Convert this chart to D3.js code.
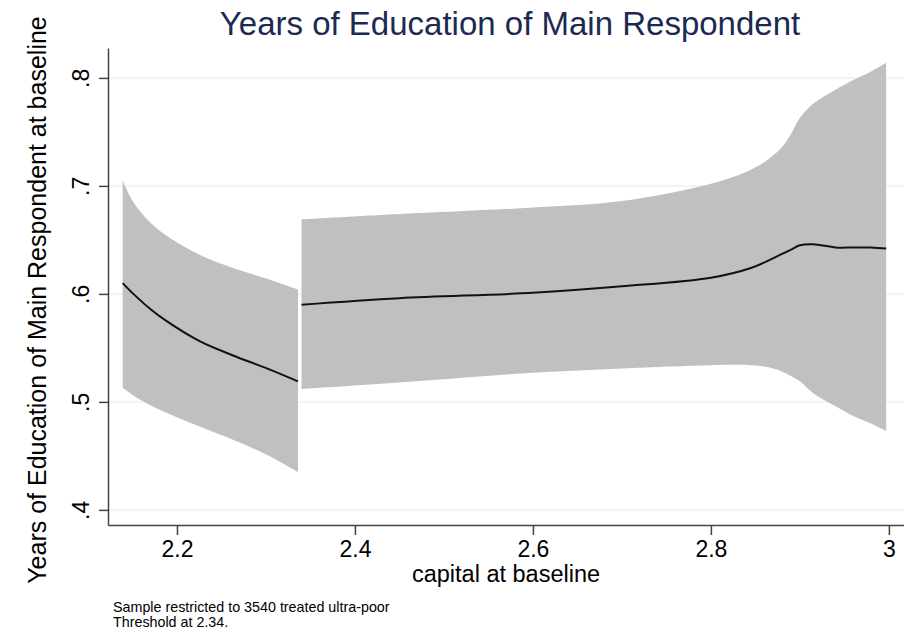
<!DOCTYPE html>
<html>
<head>
<meta charset="utf-8">
<script src="https://cdn.jsdelivr.net/npm/d3@7"></script>
<style>
  html, body { margin: 0; padding: 0; background: #fff; }
  svg { display: block; font-family: "Liberation Sans", Arial, Helvetica, sans-serif; }
</style>
</head>
<body>
<div id="chart"></div>
<script>
// left of threshold (2.34)
const leftX   = [2.139, 2.151, 2.170, 2.188, 2.226, 2.263, 2.301, 2.336];
const leftFit = [0.610, 0.600, 0.586, 0.575, 0.556, 0.543, 0.531, 0.519];
const leftHi  = [0.705, 0.685, 0.666, 0.654, 0.636, 0.624, 0.614, 0.604];
const leftLo  = [0.513, 0.506, 0.497, 0.490, 0.477, 0.465, 0.451, 0.435];

// right of threshold
const rightX   = [2.340, 2.450, 2.600, 2.700, 2.800, 2.845, 2.865, 2.880, 2.890, 2.900, 2.915, 2.940, 2.960, 2.980, 2.997];
const rightFit = [0.590, 0.596, 0.601, 0.607, 0.615, 0.624, 0.631, 0.637, 0.641, 0.645, 0.646, 0.643, 0.643, 0.643, 0.642];
const rightHi  = [0.669, 0.674, 0.680, 0.686, 0.702, 0.715, 0.725, 0.736, 0.748, 0.763, 0.776, 0.789, 0.798, 0.806, 0.814];
const rightLo  = [0.512, 0.518, 0.527, 0.531, 0.534, 0.534, 0.532, 0.528, 0.524, 0.519, 0.508, 0.496, 0.487, 0.480, 0.473];

const xTicks = [2.2, 2.4, 2.6, 2.8, 3];
const yTicks = [0.4, 0.5, 0.6, 0.7, 0.8];

const titleText = "Years of Education of Main Respondent";
const xTitle = "capital at baseline";
const yTitle = "Years of Education of Main Respondent at baseline";
const notes = ["Sample restricted to 3540 treated ultra-poor", "Threshold at 2.34."];

const width = 904, height = 637;
const plot = { left: 108, right: 904, top: 48, bottom: 525 };

const svg = d3.select("#chart").append("svg")
  .attr("width", width)
  .attr("height", height);

const x = d3.scaleLinear().domain([2.1225, 3.017]).range([plot.left, plot.right]);
const y = d3.scaleLinear().domain([0.386, 0.8277]).range([plot.bottom, plot.top]);

// gridlines
svg.append("g")
  .selectAll("line")
  .data(yTicks)
  .join("line")
  .attr("x1", plot.left)
  .attr("x2", plot.right)
  .attr("y1", d => y(d))
  .attr("y2", d => y(d))
  .attr("stroke", "#eaf0f1")
  .attr("stroke-width", 1.5);

function drawSegment(xs, fit, lo, hi) {
  const pts = xs.map((v, i) => ({ x: v, fit: fit[i], lo: lo[i], hi: hi[i] }));
  const area = d3.area()
    .curve(d3.curveCatmullRom.alpha(0.5))
    .x(d => x(d.x))
    .y0(d => y(d.lo))
    .y1(d => y(d.hi));
  const line = d3.line()
    .curve(d3.curveCatmullRom.alpha(0.5))
    .x(d => x(d.x))
    .y(d => y(d.fit));
  svg.append("path").datum(pts).attr("d", area).attr("fill", "#c0c0c0");
  svg.append("path").datum(pts).attr("d", line)
    .attr("fill", "none").attr("stroke", "#111").attr("stroke-width", 2);
}
drawSegment(leftX, leftFit, leftLo, leftHi);
drawSegment(rightX, rightFit, rightLo, rightHi);

// axes
const xAxis = svg.append("g")
  .attr("transform", `translate(0,${plot.bottom})`)
  .call(d3.axisBottom(x).tickValues(xTicks).tickSize(10).tickSizeOuter(0)
    .tickPadding(6).tickFormat(d3.format("")));
const yAxis = svg.append("g")
  .attr("transform", `translate(${plot.left},0)`)
  .call(d3.axisLeft(y).tickValues(yTicks).tickSize(9).tickSizeOuter(0)
    .tickFormat(d => String(d).replace(/^0/, "")));

[xAxis, yAxis].forEach(g => {
  g.select(".domain").attr("stroke", "#444").attr("stroke-width", 1.5);
  g.selectAll(".tick line").attr("stroke", "#444").attr("stroke-width", 1.5);
  g.selectAll("text").attr("fill", "#000").style("font-size", "23px");
});
xAxis.selectAll("text").attr("dy", "0.71em");
yAxis.selectAll(".tick text")
  .attr("text-anchor", "middle")
  .attr("dy", null)
  .attr("transform", "translate(-19,0) rotate(-90)")
  .attr("x", 0)
  .attr("y", 0);

// titles
svg.append("text")
  .attr("x", 510)
  .attr("y", 35)
  .attr("text-anchor", "middle")
  .attr("fill", "#1c2a52")
  .style("font-size", "33px")
  .text(titleText);

svg.append("text")
  .attr("x", 506)
  .attr("y", 582)
  .attr("text-anchor", "middle")
  .attr("fill", "#000")
  .style("font-size", "23.5px")
  .text(xTitle);

svg.append("text")
  .attr("transform", "translate(46,300) rotate(-90)")
  .attr("text-anchor", "middle")
  .attr("fill", "#000")
  .style("font-size", "25px")
  .text(yTitle);

svg.append("g")
  .selectAll("text")
  .data(notes)
  .join("text")
  .attr("x", 113)
  .attr("y", (d, i) => 612 + i * 15)
  .attr("fill", "#000")
  .style("font-size", "14.3px")
  .text(d => d);
</script>
</body>
</html>
